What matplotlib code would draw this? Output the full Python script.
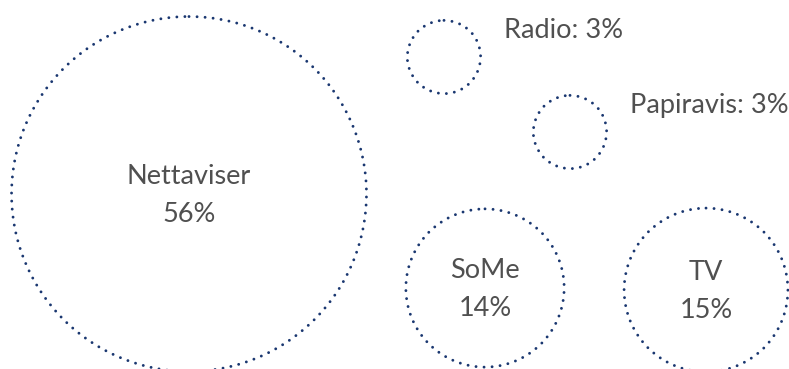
import matplotlib.pyplot as plt
from matplotlib.patches import Circle
import numpy as np

# data
labels = ['Nettaviser', 'Radio', 'Papiravis', 'SoMe', 'TV']
pct = [56, 3, 3, 14, 15]
# bubble area values (big one drawn larger than its share)
bubble = [70.4, 3.0, 3.0, 14.0, 15.0]

# layout (pixel coords, y down)
cx = [189, 444, 570, 485, 706]
cy = [194, 57, 132, 288, 290]
inside = [True, False, False, True, True]

W, H = 789, 369
fig = plt.figure(figsize=(W / 100, H / 100), dpi=100)
ax = fig.add_axes([0, 0, 1, 1])
ax.set_xlim(0, W)
ax.set_ylim(H, 0)
ax.set_aspect('equal')
ax.axis('off')

k = 21.15
navy = '#1a3770'
txt = '#505050'
font = 'Lato'
fs = 19.5

for i in range(len(labels)):
    r = k * np.sqrt(bubble[i])
    c = Circle((cx[i], cy[i]), r, fill=False, edgecolor=navy, linewidth=2.1,
               linestyle=(0, (0.01, 2.75)))
    c.set_capstyle('round')
    ax.add_patch(c)
    if inside[i]:
        ax.text(cx[i], cy[i] - 17, labels[i], ha='center', va='center',
                fontsize=fs, color=txt, family=font)
        ax.text(cx[i], cy[i] + 20, f'{pct[i]}%', ha='center', va='center',
                fontsize=fs, color=txt, family=font)
    else:
        ax.text(cx[i] + 60, cy[i] - 26, f'{labels[i]}: {pct[i]}%', ha='left',
                va='center', fontsize=fs, color=txt, family=font)

fig.savefig('out.png', dpi=100)
